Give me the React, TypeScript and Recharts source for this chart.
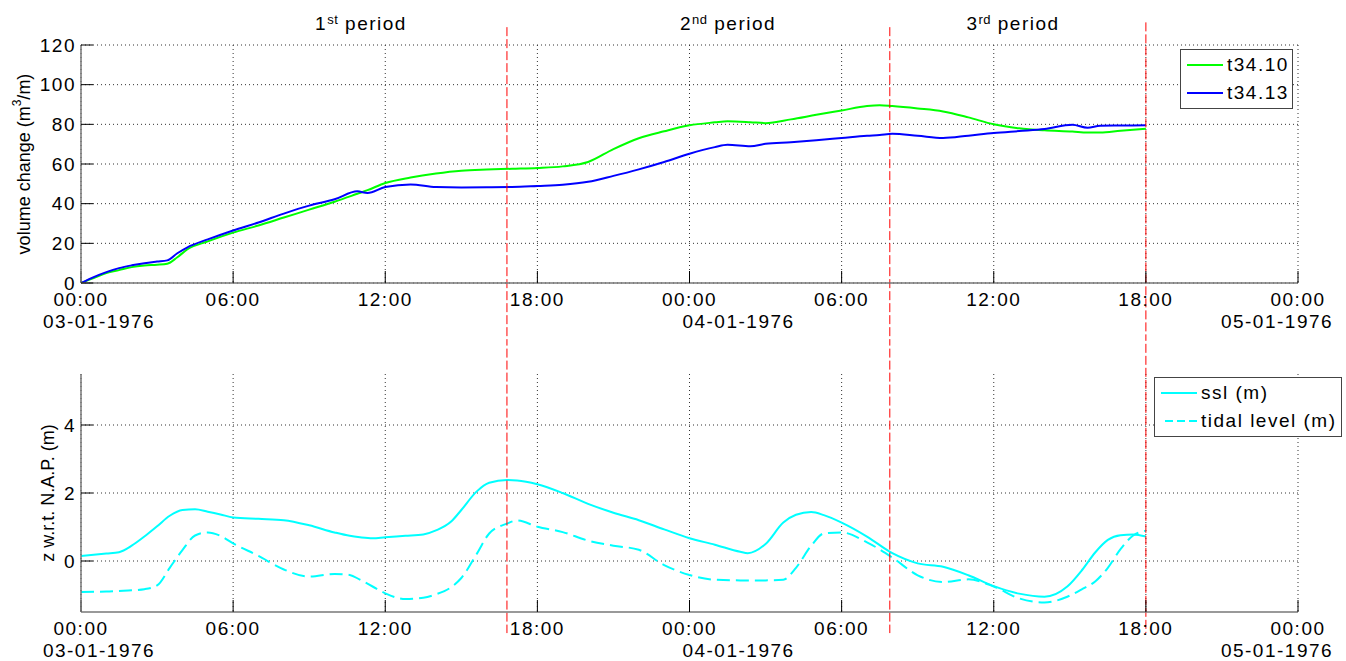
import { LineChart, Line, XAxis, YAxis, CartesianGrid, ReferenceLine, Legend } from 'recharts'

const FONT = '"Liberation Sans", Arial, Helvetica, sans-serif'

// time axis (hours since 03-01-1976 00:00)
const HOUR_TICKS = [0, 6, 12, 18, 24, 30, 36, 42, 48]
const TIME_LABELS = ['00:00', '06:00', '12:00', '18:00', '00:00', '06:00', '12:00', '18:00', '00:00']
const DATE_LABELS = ['03-01-1976', '', '', '', '04-01-1976', '', '', '', '05-01-1976']
// horizontal shift of the date line under a tick (px), as matlab's datetick placed them
const DATE_SHIFT = [18, 0, 0, 0, 49, 0, 0, 0, -21]

// period boundaries (red dashed lines)
const PERIOD_BOUNDS = [16.8, 31.9, 42]

const VOLUME_TICKS = [0, 20, 40, 60, 80, 100, 120]
const LEVEL_TICKS = [0, 2, 4]

// upper panel: volume change (m3/m)
const VOL_HOURS = [0, 0.5, 1, 1.5, 2, 2.5, 3, 3.4, 3.8, 4.2, 5, 6, 7, 8, 9, 10, 10.9, 11.3, 12, 13, 14, 15, 16, 17, 18, 19, 20, 21, 22, 23, 24, 25, 25.5, 26.4, 27, 28, 29, 30, 31, 31.5, 32, 33, 34, 35, 36, 37, 38, 39.1, 39.7, 40.2, 41, 42]
const T34_10 = [0, 2.5, 5, 6.5, 8, 8.8, 9.2, 9.7, 13, 17, 21, 25.4, 29, 33, 37, 41, 45, 46.8, 50.4, 53.2, 55.2, 56.6, 57.2, 57.6, 58, 58.8, 61, 67.5, 73, 76.5, 79.5, 81, 81.6, 81.1, 80.6, 82.5, 84.8, 87, 89.2, 89.6, 89.2, 88, 86.5, 83.5, 80, 78, 77, 76.4, 75.9, 75.9, 76.8, 77.8]
const T34_13 = [0, 3, 5.5, 7.5, 8.9, 10, 10.8, 11.4, 15, 18, 22, 26.5, 30.5, 35, 39, 42.2, 46.2, 45.4, 48.4, 49.7, 48.4, 48.2, 48.3, 48.4, 48.9, 49.5, 51, 54, 57.3, 61, 65.2, 68.5, 69.7, 68.9, 70.2, 71, 72, 73.1, 74.2, 74.6, 75.2, 74.2, 73.1, 74.3, 75.6, 76.6, 77.6, 79.8, 78.3, 79.3, 79.4, 79.5]

// lower panel: water levels (m w.r.t. N.A.P.)
const LEVEL_HOURS = [0, 1, 1.5, 2, 2.5, 3, 3.5, 4, 4.5, 5, 5.5, 6, 7, 8, 9, 10, 10.6, 11, 11.5, 12, 12.8, 13.5, 14, 14.6, 15, 15.6, 16.1, 16.8, 17.2, 18, 19, 20, 21, 22, 23, 24, 25, 26, 26.3, 27, 27.7, 28.2, 28.8, 29.3, 30, 31, 32, 33, 34, 35, 36, 37, 38, 38.9, 39.5, 40, 40.5, 41, 41.5, 42]
const SSL = [0.15, 0.22, 0.26, 0.45, 0.72, 1.02, 1.33, 1.5, 1.52, 1.45, 1.37, 1.28, 1.24, 1.2, 1.05, 0.84, 0.74, 0.7, 0.67, 0.7, 0.74, 0.78, 0.9, 1.16, 1.5, 2.04, 2.3, 2.38, 2.37, 2.26, 2.0, 1.68, 1.42, 1.2, 0.93, 0.67, 0.48, 0.27, 0.23, 0.5, 1.13, 1.36, 1.44, 1.35, 1.13, 0.72, 0.23, -0.07, -0.17, -0.42, -0.74, -0.96, -1.05, -0.75, -0.25, 0.25, 0.62, 0.76, 0.78, 0.72]
const TIDAL = [-0.91, -0.9, -0.88, -0.86, -0.83, -0.72, -0.2, 0.32, 0.75, 0.84, 0.74, 0.52, 0.15, -0.25, -0.46, -0.38, -0.41, -0.55, -0.75, -0.95, -1.12, -1.08, -0.98, -0.77, -0.5, 0.2, 0.81, 1.1, 1.19, 1.01, 0.85, 0.6, 0.45, 0.33, -0.12, -0.41, -0.55, -0.57, -0.57, -0.57, -0.55, -0.2, 0.45, 0.81, 0.84, 0.55, 0.1, -0.42, -0.62, -0.54, -0.75, -1.1, -1.22, -1.05, -0.82, -0.6, -0.2, 0.35, 0.75, 0.89]

const volumeData = VOL_HOURS.map((h, i) => ({ h, a: T34_10[i], b: T34_13[i] }))
const levelData = LEVEL_HOURS.map((h, i) => ({ h, ssl: SSL[i], tidal: TIDAL[i] }))

const textStyle = { fontFamily: FONT, fontSize: 19, fill: '#000', letterSpacing: 1.5 }

function TimeTick(props: any) {
    const { x, y, payload } = props
    const i = HOUR_TICKS.indexOf(payload.value)
    return (
        <g>
            <text x={x} y={y + 23} textAnchor="middle" style={textStyle}>{TIME_LABELS[i]}</text>
            {DATE_LABELS[i] && (
                <text x={x + DATE_SHIFT[i]} y={y + 45} textAnchor="middle" style={textStyle}>{DATE_LABELS[i]}</text>
            )}
        </g>
    )
}

function LegendBox({ items, width }: { items: { label: string; color: string; dash?: string }[]; width: number }) {
    return (
        <div style={{ width, boxSizing: 'border-box', border: '1.5px solid #444', background: '#fff', padding: '1px 0 1px 6px', fontFamily: FONT, fontSize: 19, letterSpacing: 1.5 }}>
            {items.map(it => (
                <div key={it.label} style={{ display: 'flex', alignItems: 'center', height: 28 }}>
                    <svg width={36} height={4} style={{ marginRight: 4 }}>
                        <line x1={it.dash ? 4 : 0} y1={2} x2={36} y2={2} stroke={it.color} strokeWidth={2} strokeDasharray={it.dash} />
                    </svg>
                    <span>{it.label}</span>
                </div>
            ))}
        </div>
    )
}

function YLabel({ viewBox, lines }: any) {
    const cy = viewBox.y + viewBox.height / 2
    return lines(cy)
}

function Panel(props: {
    data: any[]
    height: number
    margin: { top: number; right: number; bottom: number; left: number }
    domain: [number, number]
    ticks: number[]
    refTop: number
    refBottom: number
    children: any
    yLabel: (cx: number, cy: number) => any
    labelX: number
}) {
    const { data, height, margin, domain, ticks, refTop, refBottom, children, yLabel, labelX } = props
    return (
        <LineChart width={1346} height={height} data={data} margin={margin}>
            <CartesianGrid stroke="#333" strokeDasharray="1 3" horizontalValues={ticks} verticalValues={HOUR_TICKS} />
            <XAxis
                dataKey="h"
                type="number"
                domain={[0, 48]}
                ticks={HOUR_TICKS}
                allowDataOverflow
                height={30}
                tickSize={-12}
                tickMargin={12}
                axisLine={{ stroke: '#777', strokeWidth: 1.5 }}
                tickLine={{ stroke: '#000' }}
                tick={<TimeTick />}
                interval={0}
            />
            <XAxis
                xAxisId="top"
                orientation="top"
                dataKey="h"
                type="number"
                domain={[0, 48]}
                ticks={HOUR_TICKS}
                height={0}
                tickSize={-12}
                axisLine={{ stroke: '#777', strokeWidth: 1.5 }}
                tickLine={{ stroke: '#000' }}
                tick={false}
            />
            <YAxis
                type="number"
                domain={domain}
                ticks={ticks}
                allowDataOverflow
                width={60}
                tickSize={-12}
                tickMargin={17}
                axisLine={{ stroke: '#777', strokeWidth: 1.5 }}
                tickLine={{ stroke: '#000' }}
                tick={textStyle}
                interval={0}
                label={<YLabel lines={(cy: number) => yLabel(labelX, cy)} />}
            />
            <YAxis
                yAxisId="right"
                orientation="right"
                type="number"
                domain={domain}
                ticks={ticks}
                allowDataOverflow
                width={0}
                tickSize={-12}
                axisLine={{ stroke: '#777', strokeWidth: 1.5 }}
                tickLine={{ stroke: '#000' }}
                tick={false}
            />
            {children}
            {PERIOD_BOUNDS.map((b, i) => (
                <ReferenceLine
                    key={b}
                    ifOverflow="visible"
                    segment={[{ x: b, y: i === 2 ? refTop + (domain[1] - domain[0]) * 0.02 : refTop }, { x: b, y: refBottom }]}
                    stroke="#ff0000"
                    strokeWidth={1}
                    strokeDasharray="9 3"
                />
            ))}
        </LineChart>
    )
}

export default function App() {
    return (
        <div style={{ position: 'absolute', left: 0, top: 0, width: 1346, height: 661, background: '#fff', fontFamily: FONT }}>
            {/* period titles */}
            {[{ n: '1', s: 'st', x: 361 }, { n: '2', s: 'nd', x: 728 }, { n: '3', s: 'rd', x: 1013 }].map(p => (
                <div key={p.n} style={{ position: 'absolute', left: p.x - 100, width: 200, top: 8, textAlign: 'center', fontSize: 19, letterSpacing: 1.5, lineHeight: '24px' }}>
                    {p.n}<sup style={{ fontSize: 13, verticalAlign: 6, letterSpacing: 0.5 }}>{p.s}</sup> period
                </div>
            ))}

            <div style={{ position: 'absolute', left: 0, top: 0 }}>
                <Panel
                    data={volumeData}
                    height={340}
                    margin={{ top: 45, right: 48, bottom: 27, left: 21 }}
                    domain={[0, 120]}
                    ticks={VOLUME_TICKS}
                    refTop={129}
                    refBottom={-40}
                    labelX={24}
                    yLabel={(cx, cy) => (
                        <text transform={`translate(${cx},${cy}) rotate(-90)`} textAnchor="middle" dominantBaseline="central" style={{ fontFamily: FONT, fontSize: 18, fill: '#000' }}>
                            volume change (m<tspan fontSize={12} dy={-7}>3</tspan><tspan dy={7}>/m)</tspan>
                        </text>
                    )}
                >
                    <Line dataKey="a" name="t34.10" stroke="#00ff00" strokeWidth={2} dot={false} activeDot={false} type="monotone" isAnimationActive={false} />
                    <Line dataKey="b" name="t34.13" stroke="#0000ff" strokeWidth={2} dot={false} activeDot={false} type="monotone" isAnimationActive={false} />
                    <Legend
                        layout="vertical"
                        align="center"
                        verticalAlign="middle"
                        wrapperStyle={{ left: 1180, top: 49, width: 113 }}
                        content={() => (
                            <LegendBox width={113} items={[{ label: 't34.10', color: '#00ff00' }, { label: 't34.13', color: '#0000ff' }]} />
                        )}
                    />
                </Panel>
            </div>

            <div style={{ position: 'absolute', left: 0, top: 340 }}>
                <Panel
                    data={levelData}
                    height={321}
                    margin={{ top: 34, right: 48, bottom: 19, left: 21 }}
                    domain={[-1.5, 5.5]}
                    ticks={LEVEL_TICKS}
                    refTop={6.6}
                    refBottom={-2.12}
                    labelX={48}
                    yLabel={(cx, cy) => (
                        <text transform={`translate(${cx},${cy}) rotate(-90)`} textAnchor="middle" dominantBaseline="central" style={{ fontFamily: FONT, fontSize: 18, fill: '#000' }}>
                            z w.r.t. N.A.P. (m)
                        </text>
                    )}
                >
                    <Line dataKey="ssl" name="ssl (m)" stroke="#00ffff" strokeWidth={2} dot={false} activeDot={false} type="monotone" isAnimationActive={false} />
                    <Line dataKey="tidal" name="tidal level (m)" stroke="#00ffff" strokeWidth={2} strokeDasharray="13 6" dot={false} activeDot={false} type="monotone" isAnimationActive={false} />
                    <Legend
                        layout="vertical"
                        align="center"
                        verticalAlign="middle"
                        wrapperStyle={{ left: 1154, top: 37, width: 188 }}
                        content={() => (
                            <LegendBox width={188} items={[{ label: 'ssl (m)', color: '#00ffff' }, { label: 'tidal level (m)', color: '#00ffff', dash: '8 4' }]} />
                        )}
                    />
                </Panel>
            </div>
        </div>
    )
}
